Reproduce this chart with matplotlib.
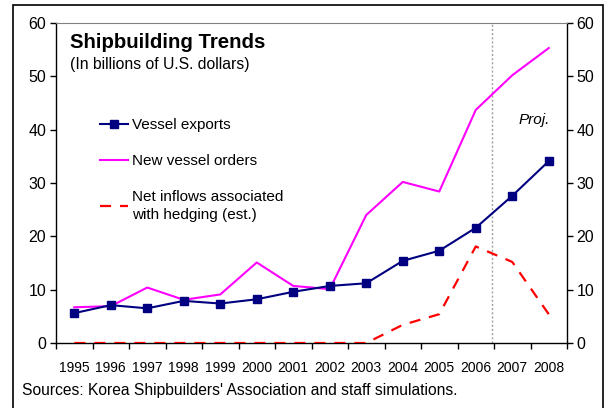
import matplotlib
matplotlib.use("Agg")
import matplotlib.pyplot as plt
from matplotlib.patches import Rectangle
import numpy as np

plt.rcParams['font.family'] = ['Liberation Sans', 'DejaVu Sans']

years = ['1995', '1996', '1997', '1998', '1999', '2000', '2001',
         '2002', '2003', '2004', '2005', '2006', '2007', '2008']
vessel_exports = [5.6, 7.1, 6.5, 7.9, 7.4, 8.2, 9.6,
                  10.7, 11.2, 15.4, 17.3, 21.6, 27.6, 34.1]
new_orders = [6.7, 6.9, 10.4, 8.1, 9.1, 15.1, 10.7,
              10.1, 24.0, 30.2, 28.4, 43.7, 50.2, 55.3]
net_inflows = [0, 0, 0, 0, 0, 0, 0,
               0, 0, 3.4, 5.4, 18.1, 15.2, 5.4]
projection_start = 11.45

fig = plt.figure(figsize=(6.05, 4.08), dpi=100)
ax = fig.add_axes([56 / 605, 1 - 343 / 408, 511 / 605, 320 / 408])

x = np.arange(len(years))
ax.plot(x, new_orders, color='#FF00FF', lw=1.5, label='New vessel orders', zorder=3)
ax.plot(x, net_inflows, color='#FF0000', lw=1.6, dashes=(5, 4),
        label='Net inflows associated\nwith hedging (est.)', zorder=3)
ax.plot(x, vessel_exports, color='#000080', lw=1.5, marker='s', ms=5.5,
        label='Vessel exports', zorder=4)

ax.axvline(projection_start, color='#a0a0a0', lw=1, ls=(0, (1.5, 1.5)), zorder=1)

ax.set_xlim(-0.5, len(years) - 0.5)
ax.set_ylim(0, 60)
ax.set_yticks(range(0, 61, 10))
ax.tick_params(axis='y', direction='out', length=4, width=1, labelsize=11.5,
               right=True, labelright=True, pad=3)
ax.set_xticks(np.arange(-0.5, len(years), 1.0))
ax.set_xticklabels([])
ax.tick_params(axis='x', which='major', direction='out', length=4, width=1)
ax.set_xticks(x, minor=True)
ax.set_xticklabels(years, minor=True, fontsize=10)
ax.tick_params(axis='x', which='minor', length=0, pad=13)

for side in ('left', 'right', 'bottom'):
    ax.spines[side].set_color('black')
    ax.spines[side].set_linewidth(1)
ax.spines['top'].set_color('#808080')
ax.spines['top'].set_linewidth(0.8)

handles, labels = ax.get_legend_handles_labels()
order = [2, 0, 1]
leg = ax.legend([handles[i] for i in order], [labels[i] for i in order],
                loc='upper left', bbox_to_anchor=(100 / 605, 1 - 118 / 408),
                bbox_transform=fig.transFigure, frameon=False, fontsize=11,
                borderpad=0, borderaxespad=0, handlelength=1.8, handletextpad=0.3,
                labelspacing=1.45)
for t in leg.get_texts():
    t.set_linespacing(1.35)

fig.text(70 / 605, 1 - 43 / 408, 'Shipbuilding Trends', fontsize=14.7,
         fontweight='bold', va='center', ha='left')
fig.text(70 / 605, 1 - 64 / 408, '(In billions of U.S. dollars)', fontsize=11.3,
         va='center', ha='left')
fig.text(534 / 605, 1 - 120 / 408, 'Proj.', fontsize=11, style='italic',
         va='center', ha='center')
fig.text(22 / 605, 1 - 391 / 408,
         "Sources: Korea Shipbuilders' Association and staff simulations.",
         fontsize=11.25, va='center', ha='left')

fig.patches.append(Rectangle((13 / 605, -0.02), 590 / 605, 1.02 - 5 / 408,
                             transform=fig.transFigure, fill=False,
                             edgecolor='black', lw=1.2))

fig.savefig('out.png', dpi=100)
